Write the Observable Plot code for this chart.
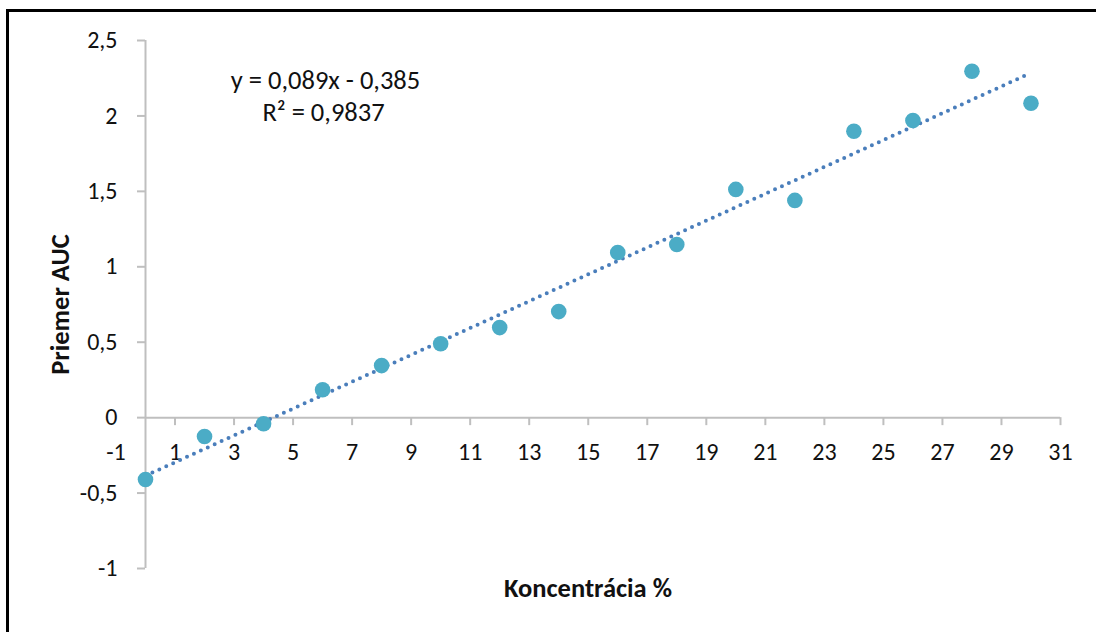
<!DOCTYPE html>
<html>
<head>
<meta charset="utf-8">
<script src="https://cdn.jsdelivr.net/npm/d3@7"></script>
<script src="https://cdn.jsdelivr.net/npm/@observablehq/plot@0.6"></script>
<style>
  html, body { margin: 0; padding: 0; background: #fff; }
  #wrap { position: relative; width: 1096px; height: 632px; overflow: hidden; }
  #box { position: absolute; left: 6px; top: 9px; right: -10px; bottom: -10px; border-left: 3px solid #000; border-top: 3px solid #000; pointer-events: none; }
  svg { display: block; }
</style>
</head>
<body>
<div id="wrap"><div id="chart"></div><div id="box"></div></div>
<script>
// Data
const concentration = [0, 2, 4, 6, 8, 10, 12, 14, 16, 18, 20, 22, 24, 26, 28, 30];
const meanAUC = [-0.41, -0.125, -0.04, 0.185, 0.345, 0.49, 0.597, 0.703, 1.095, 1.148, 1.513, 1.44, 1.898, 1.97, 2.296, 2.084];
const trendSlope = 0.089;
const trendIntercept = -0.385;
const trendRange = [0, 30];
const xTickValues = [1, 3, 5, 7, 9, 11, 13, 15, 17, 19, 21, 23, 25, 27, 29, 31];
const xLabelValues = [-1, 1, 3, 5, 7, 9, 11, 13, 15, 17, 19, 21, 23, 25, 27, 29, 31];
const yTickValues = [-1, -0.5, 0, 0.5, 1, 1.5, 2, 2.5];
const equationLines = ["y = 0,089x - 0,385", "R² = 0,9837"];
const xTitle = "Koncentrácia %";
const yTitle = "Priemer AUC";

const points = concentration.map((c, i) => ({x: c, y: meanAUC[i]}));
const trend = trendRange.map(x => ({x, y: trendSlope * x + trendIntercept}));
const comma = d => String(d).replace(".", ",");

const FONT = "Carlito, Calibri, Lato, 'Open Sans', sans-serif";
const AXIS = "#bfbfbf";
const TEXT = "#111";

const chart = Plot.plot({
  width: 1096,
  height: 632,
  marginLeft: 145,
  marginRight: 36,
  marginTop: 40,
  marginBottom: 64,
  style: {fontFamily: FONT, background: "transparent"},
  x: {domain: [0, 31], axis: null},
  y: {domain: [-1, 2.5], axis: null},
  marks: [
    Plot.ruleX([0], {stroke: AXIS, strokeWidth: 2}),
    Plot.ruleY([0], {x1: 0, x2: 31, stroke: AXIS, strokeWidth: 2}),
    Plot.axisY(yTickValues, {anchor: "left", label: null, tickSize: 8, tickPadding: 20, tickFormat: comma, stroke: AXIS, strokeWidth: 2, fill: TEXT, fontSize: 24}),
    Plot.ruleX(xTickValues, {x: d => d, y1: 0, y2: 0, insetBottom: -8, stroke: AXIS, strokeWidth: 2}),
    Plot.text(xLabelValues, {x: d => d, y: 0, dy: 35, text: d => comma(d), fill: TEXT, fontSize: 24}),
    Plot.line(trend, {x: "x", y: "y", stroke: "#4a7ebb", strokeWidth: 4, strokeDasharray: "0 7.6", strokeLinecap: "round"}),
    Plot.dot(points, {x: "x", y: "y", r: 7.8, fill: "#4bacc6", stroke: "none"}),
    Plot.text([equationLines[0]], {frameAnchor: "top-left", dx: 180, dy: 40, textAnchor: "middle", lineAnchor: "middle", fill: TEXT, fontSize: 26.5}),
    Plot.text([equationLines[1]], {frameAnchor: "top-left", dx: 178, dy: 72, textAnchor: "middle", lineAnchor: "middle", fill: TEXT, fontSize: 26.5}),
    Plot.text([xTitle], {frameAnchor: "bottom", dx: -15, dy: 20, lineAnchor: "middle", fill: TEXT, fontSize: 26.5, fontWeight: "bold"}),
    Plot.text([yTitle], {frameAnchor: "left", dx: -85, dy: 0, rotate: -90, lineAnchor: "middle", textAnchor: "middle", fill: TEXT, fontSize: 26.5, fontWeight: "bold"})
  ]
});
document.getElementById("chart").appendChild(chart);
</script>
</body>
</html>
